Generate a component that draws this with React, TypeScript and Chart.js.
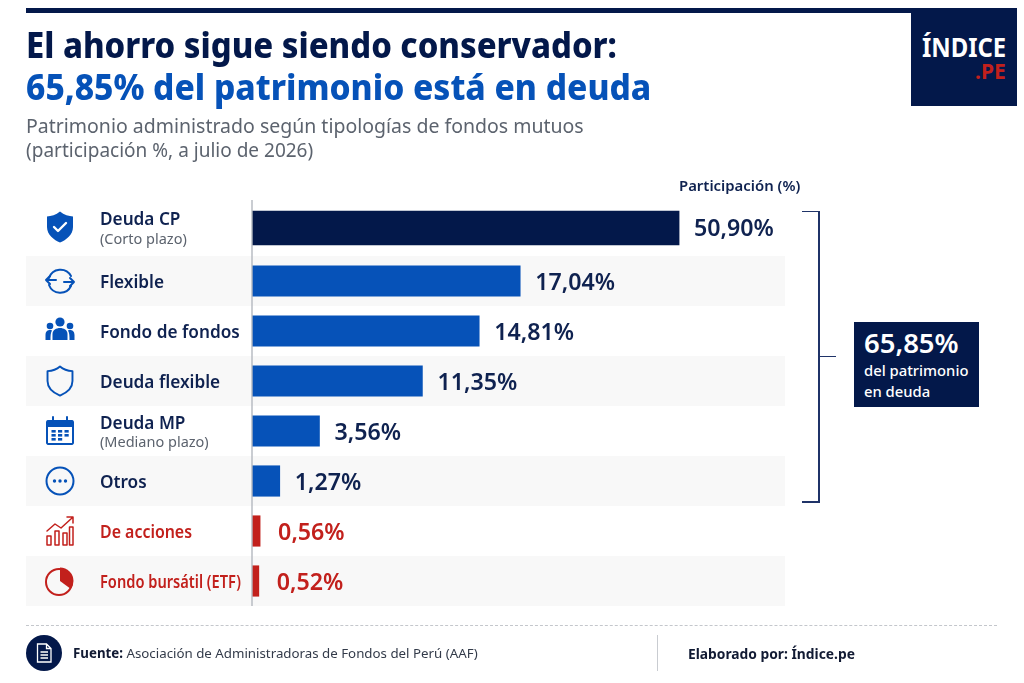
import { useEffect, useRef } from "react";
import type { ReactNode } from "react";
import Chart from "chart.js/auto";

const FONT = '"Noto Sans", sans-serif';
const NAVY = "#03184a";
const INK = "#0f2250";
const BLUE = "#0652b8";
const RED = "#c2201c";
const BAND = "#f8f8f8";
const GREY = "#5c636e";

const categories = ["Deuda CP", "Flexible", "Fondo de fondos", "Deuda flexible", "Deuda MP", "Otros", "De acciones", "Fondo bursátil (ETF)"];
const subLabels = ["(Corto plazo)", "", "", "", "(Mediano plazo)", "", "", ""];
const shares = [50.9, 17.04, 14.81, 11.35, 3.56, 1.27, 0.56, 0.52];
// the bars in the picture are not proportional to their labels, so their drawn length
// is read separately, as % of the longest bar
const barLengths = [100, 62.8, 53.2, 39.9, 15.8, 6.5, 1.9, 1.6];
const barColors = [NAVY, BLUE, BLUE, BLUE, BLUE, BLUE, RED, RED];

const formatShare = (v: number) => v.toFixed(2).replace(".", ",") + "%";

function stroke(ctx: CanvasRenderingContext2D, path: string, color: string, width = 2) {
  ctx.strokeStyle = color;
  ctx.lineWidth = width;
  ctx.lineJoin = "round";
  ctx.lineCap = "round";
  ctx.stroke(new Path2D(path));
}

function fill(ctx: CanvasRenderingContext2D, path: string, color: string) {
  ctx.fillStyle = color;
  ctx.fill(new Path2D(path));
}

const SHIELD = "M0 -15.5 C4 -12 9 -10.8 13 -10.5 L13 0 C13 8 6 13 0 15.5 C-6 13 -13 8 -13 0 L-13 -10.5 C-9 -10.8 -4 -12 0 -15.5 Z";

const icons: ((ctx: CanvasRenderingContext2D) => void)[] = [
  (ctx) => {
    fill(ctx, SHIELD, BLUE);
    stroke(ctx, "M-6 0 L-2 4 L6 -4", "#ffffff", 2.4);
  },
  (ctx) => {
    stroke(ctx, "M-11 -3 A12 12 0 0 1 11 -5 M11 5 A12 12 0 0 1 -11 4", BLUE);
    stroke(ctx, "M-14 -1 L-4 -1 M-14 -1 L-10 -5 M-14 -1 L-10 3 M4 1 L14 1 M14 1 L10 -3 M14 1 L10 5", BLUE);
  },
  (ctx) => {
    ctx.fillStyle = BLUE;
    [[0, -9, 4.6], [-10, -5, 3.3], [10, -5, 3.3]].forEach(([x, y, r]) => {
      ctx.beginPath();
      ctx.arc(x, y, r, 0, Math.PI * 2);
      ctx.fill();
    });
    fill(ctx, "M-7.5 9 L-7.5 3 C-7.5 -5 7.5 -5 7.5 3 L7.5 9 Z", BLUE);
    fill(ctx, "M-14.5 9 L-14.5 4 C-14.5 -1 -10 -1.5 -8 -0.5 C-9.5 2 -9.5 5 -9.5 9 Z", BLUE);
    fill(ctx, "M14.5 9 L14.5 4 C14.5 -1 10 -1.5 8 -0.5 C9.5 2 9.5 5 9.5 9 Z", BLUE);
  },
  (ctx) => {
    ctx.scale(0.96, 0.94);
    stroke(ctx, SHIELD, BLUE, 2);
  },
  (ctx) => {
    stroke(ctx, "M-12 -10 L12 -10 A1.5 1.5 0 0 1 13 -9 L13 12 A1.5 1.5 0 0 1 12 13 L-12 13 A1.5 1.5 0 0 1 -13 12 L-13 -9 A1.5 1.5 0 0 1 -12 -10 Z", BLUE);
    fill(ctx, "M-13 -10 L13 -10 L13 -4 L-13 -4 Z", BLUE);
    stroke(ctx, "M-7 -14 L-7 -9 M7 -14 L7 -9", BLUE);
    [-8.5, -2, 4.5].forEach((x) => [0, 4, 8].forEach((y) => {
      if (x === 4.5 && y === 8) return;
      ctx.fillStyle = BLUE;
      ctx.fillRect(x, y - 1, 4.2, 2.6);
    }));
  },
  (ctx) => {
    ctx.beginPath();
    ctx.arc(0, 0, 13.5, 0, Math.PI * 2);
    ctx.strokeStyle = BLUE;
    ctx.lineWidth = 2;
    ctx.stroke();
    ctx.fillStyle = BLUE;
    [-5.5, 0, 5.5].forEach((x) => {
      ctx.beginPath();
      ctx.arc(x, 0, 1.7, 0, Math.PI * 2);
      ctx.fill();
    });
  },
  (ctx) => {
    stroke(ctx, "M-13 5 L-13 14 L-9 14 L-9 5 Z M-5 0 L-5 14 L-1 14 L-1 0 Z M3 2 L3 14 L7 14 L7 2 Z M9.5 -4 L9.5 14 L13 14 L13 -4 Z", RED, 1.5);
    stroke(ctx, "M-13 0 L-5 -7 L1 -3 L12 -13 M7 -14 L13 -14 L13 -8", RED, 1.5);
  },
  (ctx) => {
    ctx.beginPath();
    ctx.arc(-1, 1, 13, 0, Math.PI * 2);
    ctx.strokeStyle = RED;
    ctx.lineWidth = 2;
    ctx.stroke();
    ctx.beginPath();
    ctx.moveTo(0, 0);
    ctx.lineTo(0, -13.5);
    ctx.arc(0, 0, 13.5, -Math.PI / 2, Math.PI * 0.2);
    ctx.closePath();
    ctx.fillStyle = RED;
    ctx.fill();
  },
];

const rowPlugin = {
  id: "rows",
  // the first bar sits a little above the middle of its row in the reference
  afterDatasetsUpdate(chart: any) {
    chart.getDatasetMeta(0).data[0].y -= 3;
  },
  beforeDatasetsDraw(chart: any) {
    const { ctx, chartArea, scales } = chart;
    const rowH = scales.y.height / categories.length;
    ctx.save();
    categories.forEach((_, i) => {
      if (i % 2 === 1) {
        ctx.fillStyle = BAND;
        ctx.fillRect(26, scales.y.getPixelForValue(i) - rowH / 2, chartArea.right - 26, rowH);
      }
    });
    ctx.restore();
  },
  afterDatasetsDraw(chart: any) {
    const { ctx, chartArea, scales } = chart;
    ctx.save();
    ctx.strokeStyle = "#b4b8bf";
    ctx.lineWidth = 1.4;
    ctx.beginPath();
    ctx.moveTo(chartArea.left, chartArea.top - 6);
    ctx.lineTo(chartArea.left, chartArea.bottom);
    ctx.stroke();

    ctx.textBaseline = "alphabetic";
    categories.forEach((name, i) => {
      const y = scales.y.getPixelForValue(i);
      const isRed = barColors[i] === RED;
      const color = isRed ? RED : INK;

      ctx.save();
      ctx.translate(60, i === 0 ? y - 4 : y);
      icons[i](ctx);
      ctx.restore();

      ctx.textAlign = "left";
      ctx.fillStyle = color;
      ctx.font = `600 17.2px ${FONT}`;
      if (subLabels[i]) {
        ctx.fillText(name, 100, y + (i === 0 ? -6 : -2.5));
        ctx.font = `400 14.5px ${FONT}`;
        ctx.fillStyle = GREY;
        ctx.fillText(subLabels[i], 100, y + (i === 0 ? 13 : 16));
      } else if (isRed) {
        ctx.fillText(name, 100, y + 6.5, i === 6 ? 92 : 141);
      } else {
        ctx.fillText(name, 100, y + 6.5);
      }

      ctx.fillStyle = color;
      ctx.font = `600 23.2px ${FONT}`;
      const labelY = i === 0 ? y + 5 : y + 9;
      ctx.fillText(formatShare(shares[i]), scales.x.getPixelForValue(barLengths[i]) + (isRed ? 18 : 15), labelY);
    });
    ctx.restore();
  },
};

function Text({ x, baseline, size, weight = 400, color = INK, sx = 1, children }: { x: number; baseline: number; size: number; weight?: number; color?: string; sx?: number; children: ReactNode }) {
  return (
    <div style={{ position: "absolute", left: x, top: baseline - size * 0.888, fontSize: size, fontWeight: weight, color, lineHeight: 1, whiteSpace: "nowrap", transform: `scaleX(${sx})`, transformOrigin: "left" }}>
      {children}
    </div>
  );
}

function Box({ x, y, w, h, color }: { x: number; y: number; w: number; h: number; color: string }) {
  return <div style={{ position: "absolute", left: x, top: y, width: w, height: h, background: color }} />;
}

export default function App() {
  const canvasRef = useRef<HTMLCanvasElement>(null);

  useEffect(() => {
    document.body.style.margin = "0";
    document.body.style.background = "#ffffff";
    if (!canvasRef.current) return;
    const chart = new Chart(canvasRef.current, {
      type: "bar",
      data: {
        labels: categories,
        datasets: [
          { data: barLengths.map((v, i) => (i === 0 ? v : null)), backgroundColor: barColors, barThickness: 34, grouped: false },
          { data: barLengths.map((v, i) => (i === 0 ? null : v)), backgroundColor: barColors, barThickness: 30.5, grouped: false },
        ],
      },
      options: {
        indexAxis: "y",
        animation: false,
        responsive: true,
        maintainAspectRatio: false,
        layout: { padding: { left: 252, top: 206, right: 239, bottom: 77 } },
        scales: {
          x: { display: false, min: 0, max: 124.8 },
          y: { display: false },
        },
        plugins: { legend: { display: false }, tooltip: { enabled: false } },
      },
      plugins: [rowPlugin],
    });
    return () => chart.destroy();
  }, []);

  return (
    <div style={{ position: "relative", width: 1024, height: 683, overflow: "hidden", fontFamily: FONT, background: "#fff" }}>
      <div style={{ position: "absolute", inset: 0 }}>
        <canvas ref={canvasRef} />
      </div>

      <Box x={26} y={8} w={990} h={4.5} color={NAVY} />
      <Text x={26} baseline={58} size={35} weight={800} color={NAVY} sx={0.938}>El ahorro sigue siendo conservador:</Text>
      <Text x={26} baseline={100.5} size={35} weight={800} color={BLUE} sx={0.958}>65,85% del patrimonio está en deuda</Text>
      <Text x={26} baseline={133} size={19.3} color={GREY} sx={1.011}>Patrimonio administrado según tipologías de fondos mutuos</Text>
      <Text x={26} baseline={157} size={19.3} color={GREY} sx={0.986}>(participación %, a julio de 2026)</Text>

      <Box x={911} y={8} w={105.5} h={98} color={NAVY} />
      <Text x={921.5} baseline={57} size={27} weight={700} color="#ffffff" sx={0.885}>ÍNDICE</Text>
      <Text x={975} baseline={80} size={21} weight={700} color={RED}>.PE</Text>

      <Text x={679} baseline={191} size={14.9} weight={600}>Participación (%)</Text>

      <Box x={802} y={210.5} w={17.5} h={1.6} color="#1f3368" />
      <Box x={818} y={210.5} w={1.6} h={291.5} color="#1f3368" />
      <Box x={802} y={501} w={17.5} h={1.6} color="#1f3368" />
      <Box x={818} y={355.5} w={18} h={1.6} color="#1f3368" />

      <Box x={854} y={322} w={125} h={85} color={NAVY} />
      <Text x={864} baseline={353.5} size={27.5} weight={600} color="#ffffff">65,85%</Text>
      <Text x={864} baseline={376} size={14.8} weight={500} color="#ffffff">del patrimonio</Text>
      <Text x={864} baseline={397} size={14.8} weight={500} color="#ffffff">en deuda</Text>

      <div style={{ position: "absolute", left: 26, top: 625, width: 971, borderTop: "1px dashed #c4c7cc" }} />
      <div style={{ position: "absolute", left: 26, top: 635, width: 36, height: 36, borderRadius: "50%", background: NAVY }} />
      <svg style={{ position: "absolute", left: 34, top: 643 }} width="20" height="20" viewBox="0 0 20 20" fill="none" stroke="#fff" strokeWidth="1.3">
        <path d="M3.5 1 L12.5 1 L17 5.5 L17 19 L3.5 19 Z M12.5 1 L12.5 5.5 L17 5.5 M6.5 9 L14 9 M6.5 12 L14 12 M6.5 15 L14 15" />
      </svg>
      <Text x={73} baseline={659} size={13.3}>
        <b style={{ fontWeight: 700, color: "#111a33" }}>Fuente:</b> <span style={{ color: "#333b4a" }}>Asociación de Administradoras de Fondos del Perú (AAF)</span>
      </Text>
      <Box x={657} y={635} w={1} h={36} color="#c9ccd1" />
      <Text x={688} baseline={659} size={13.8} weight={700} color="#111a33">Elaborado por: Índice.pe</Text>
    </div>
  );
}
